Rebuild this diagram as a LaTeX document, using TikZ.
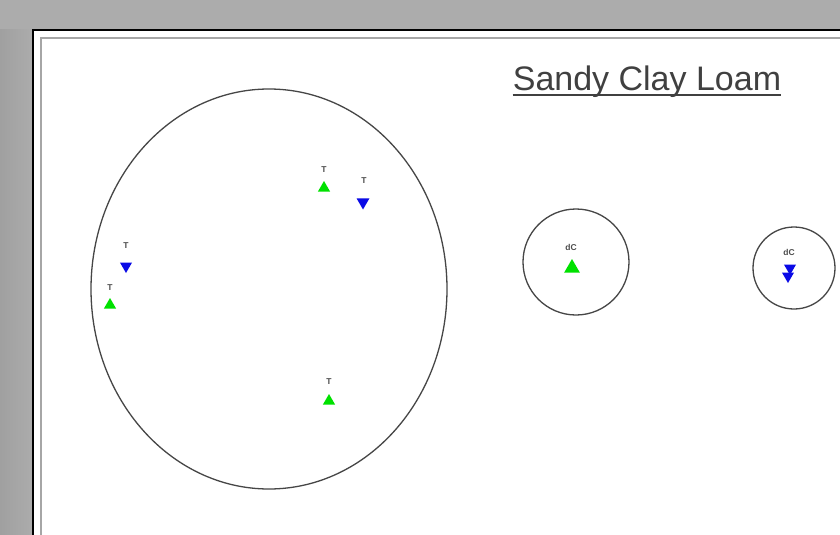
\documentclass[tikz,border=0pt]{standalone}
\usepackage{fontspec}
\setmainfont{Liberation Sans}
\usetikzlibrary{shapes.geometric}
\definecolor{mgreen}{RGB}{0,225,0}
\definecolor{mblue}{RGB}{10,10,230}
\definecolor{bggray}{RGB}{172,172,172}
\definecolor{ringgray}{RGB}{70,70,70}
\begin{document}
\begin{tikzpicture}[x=1pt,y=-1pt,
  up/.style={regular polygon, regular polygon sides=3, fill=mgreen, inner sep=0pt, minimum size=14pt},
  down/.style={regular polygon, regular polygon sides=3, shape border rotate=180, fill=mblue, inner sep=0pt, minimum size=14pt},
  lab/.style={font=\fontsize{8.5}{8.5}\selectfont\bfseries, text=black!70, inner sep=0pt},
  ring/.style={draw=ringgray, line width=1.3pt, inner sep=0pt}]
\useasboundingbox (0,0) rectangle (840,535);
\fill[bggray] (0,0) rectangle (840,535);
\shade[left color=bggray!93!black, right color=bggray] (0,30) rectangle (33,535);
\fill[white] (33,30) rectangle (841,536);
\draw[black, line width=1.8pt] (33,536) -- (33,30) -- (841,30);
\draw[black!35, line width=1.5pt] (41,536) -- (41,38) -- (841,38);
% title
\node[anchor=base, inner sep=0pt, text=black!75, font=\fontsize{34}{34}\selectfont] (title) at (647,90) {Sandy Clay Loam};
\draw[black!75, line width=1.3pt] ([yshift=-5pt]title.base west) -- ([yshift=-5pt]title.base east);
% rings
\node[ring, ellipse, minimum width=356pt, minimum height=400pt] (E) at (269,289) {};
\node[ring, circle, minimum size=106pt] (C1) at (576,262) {};
\node[ring, circle, minimum size=82pt] (C2) at (794,268) {};
% markers in big ellipse
\node[up] (g1) at (324,188) {};
\node[lab] (g1l) at (324,170) {T};
\node[down, minimum size=15pt] (b1) at (363,202) {};
\node[lab] (b1l) at (364,181) {T};
\node[down] (b2) at (126,266) {};
\node[lab] (b2l) at (126,246) {T};
\node[up] (g2) at (110,305) {};
\node[lab] (g2l) at (110,288) {T};
\node[up] (g3) at (329,401) {};
\node[lab] (g3l) at (329,382) {T};
% circle 1
\node[up, minimum size=18pt] (g4) at (572,268) {};
\node[lab] (g4l) at (571,247) {dC};
% circle 2
\node[down] (b3) at (790,268) {};
\node[down] (b4) at (788,276) {};
\node[lab] (b3l) at (789,252) {dC};
\end{tikzpicture}
\end{document}
